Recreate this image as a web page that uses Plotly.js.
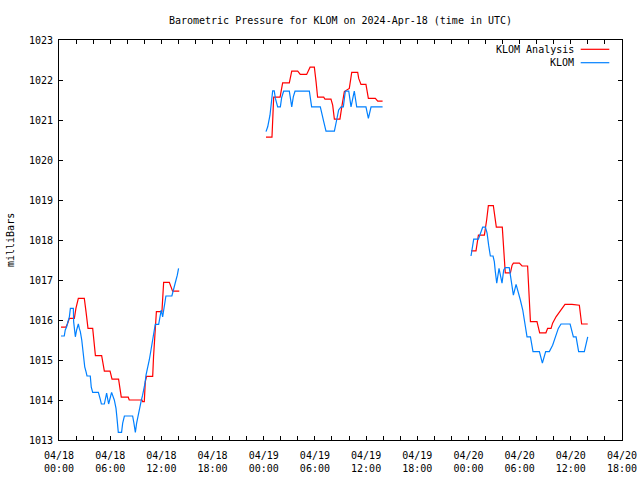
<!DOCTYPE html>
<html>
<head>
<meta charset="utf-8">
<script src="https://cdn.plot.ly/plotly-3.0.1.min.js"></script>
<style>html,body{margin:0;padding:0;background:#fff;}#chart{width:640px;height:480px;}</style>
</head>
<body>
<div id="chart"></div>
<script>
// Hours after 2024-04-18 00:00 UTC; null separates data gaps
const analysisHours = [0.23,0.82,1.02,1.21,1.80,1.99,2.27,2.97,3.16,3.28,3.40,3.95,4.06,4.26,5.00,5.12,5.31,5.98,6.21,6.99,7.15,7.30,8.12,8.24,9.73,9.80,10.00,10.12,10.27,10.98,11.09,11.21,11.33,11.41,12.07,12.15,12.27,12.93,13.12,13.32,14.10,
  null,
  24.27,24.97,25.17,25.91,26.22,27.00,27.28,27.98,28.29,29.03,29.43,29.93,30.13,30.32,31.03,31.18,31.89,32.08,32.28,32.94,33.18,33.45,34.04,34.31,35.01,35.13,35.40,35.99,36.26,37.08,37.36,37.94,
  null,
  48.30,48.89,49.16,49.86,50.14,50.33,50.92,51.04,51.27,51.97,52.09,52.21,52.32,52.91,53.11,53.26,53.97,54.28,54.94,55.14,55.26,56.04,56.19,56.35,57.09,57.29,57.68,57.87,58.26,58.85,59.32,60.14,61.00,61.27,61.98];
const analysisMb = [1015.82,1015.82,1015.92,1016.04,1016.04,1016.29,1016.54,1016.54,1016.21,1015.96,1015.79,1015.79,1015.46,1015.11,1015.11,1014.92,1014.72,1014.72,1014.52,1014.52,1014.33,1014.07,1014.07,1014.00,1014.00,1013.96,1013.96,1014.46,1014.59,1014.59,1015.08,1015.58,1015.96,1016.21,1016.21,1016.67,1016.94,1016.94,1016.83,1016.72,1016.72,
  null,
  1020.57,1020.57,1021.57,1021.57,1021.93,1021.93,1022.22,1022.22,1022.14,1022.14,1022.32,1022.32,1021.96,1021.57,1021.57,1021.52,1021.52,1021.37,1021.02,1021.02,1021.37,1021.71,1021.79,1022.19,1022.19,1022.04,1021.89,1021.89,1021.54,1021.54,1021.47,1021.47,
  null,
  1017.73,1017.73,1018.12,1018.12,1018.50,1018.86,1018.86,1018.62,1018.32,1018.32,1017.79,1017.50,1017.18,1017.18,1017.37,1017.42,1017.42,1017.35,1017.35,1016.62,1015.96,1015.96,1015.79,1015.68,1015.68,1015.79,1015.79,1015.92,1016.08,1016.25,1016.39,1016.39,1016.37,1015.90,1015.90];

const stationHours = [0.23,0.62,0.74,0.90,1.05,1.21,1.33,1.68,1.72,1.91,2.07,2.27,2.38,2.50,2.66,2.77,2.89,3.01,3.16,3.28,3.67,3.79,3.95,4.61,4.84,4.96,5.31,5.59,5.82,6.17,6.48,6.68,6.80,6.95,7.34,7.46,7.66,8.63,8.79,8.95,9.10,9.26,9.41,9.61,9.80,9.96,10.08,10.20,10.39,10.59,10.78,10.94,11.09,11.29,11.68,11.84,11.99,12.15,12.30,12.54,13.24,13.40,13.55,13.71,13.87,14.02,
  null,
  24.27,24.46,24.74,24.85,25.05,25.24,25.36,25.64,25.95,26.10,26.34,27.00,27.16,27.28,27.47,27.67,29.35,29.62,30.64,30.83,31.03,31.30,32.28,32.55,32.79,33.06,33.33,33.57,33.96,34.23,34.62,34.90,35.99,36.26,36.58,37.94,
  null,
  48.30,48.50,48.61,49.16,49.39,49.67,49.98,50.18,50.37,50.57,50.88,51.04,51.15,51.31,51.58,51.78,51.93,52.13,52.32,52.79,52.99,53.26,53.58,53.85,54.08,54.36,54.63,54.87,55.26,55.57,56.31,56.66,57.05,57.48,57.87,58.19,58.54,58.85,59.91,60.30,60.61,60.92,61.59,61.98];
const stationMb = [1015.60,1015.60,1015.75,1015.83,1015.96,1016.08,1016.29,1016.29,1015.96,1015.58,1015.75,1015.90,1015.79,1015.71,1015.50,1015.25,1015.00,1014.83,1014.71,1014.60,1014.60,1014.32,1014.19,1014.19,1014.02,1013.90,1013.90,1014.17,1013.90,1014.19,1014.00,1013.79,1013.54,1013.19,1013.19,1013.42,1013.60,1013.60,1013.42,1013.19,1013.42,1013.62,1013.79,1013.96,1014.12,1014.29,1014.42,1014.62,1014.79,1015.00,1015.25,1015.46,1015.67,1015.89,1015.89,1016.08,1016.25,1016.08,1016.25,1016.60,1016.60,1016.72,1016.87,1017.00,1017.12,1017.29,
  null,
  1020.71,1020.83,1021.12,1021.37,1021.73,1021.73,1021.54,1021.33,1021.33,1021.56,1021.72,1021.72,1021.54,1021.33,1021.58,1021.72,1021.72,1021.33,1021.33,1021.17,1020.96,1020.72,1020.72,1021.00,1021.25,1021.33,1021.33,1021.72,1021.72,1021.33,1021.72,1021.33,1021.33,1021.04,1021.33,1021.33,
  null,
  1017.60,1017.87,1018.02,1018.02,1018.17,1018.32,1018.32,1018.17,1017.87,1017.60,1017.60,1017.46,1017.21,1016.92,1017.29,1017.08,1016.92,1017.25,1017.31,1017.31,1017.00,1016.62,1016.89,1016.71,1016.50,1016.25,1015.87,1015.58,1015.58,1015.21,1015.21,1014.92,1015.21,1015.21,1015.37,1015.58,1015.79,1015.90,1015.90,1015.58,1015.58,1015.21,1015.21,1015.58];

const seriesNames = ["KLOM Analysis", "KLOM"];
const seriesColors = ["#ff0000", "#0080ff"];
const chartTitle = "Barometric Pressure for KLOM on 2024-Apr-18 (time in UTC)";
const yTitle = "milliBars";

const baseMs = Date.UTC(2024, 3, 18, 0, 0, 0);
function pad(n){ return (n < 10 ? "0" : "") + n; }
function toDate(h){
  if (h === null) return null;
  const d = new Date(baseMs + Math.round(h * 60) * 60000);
  return d.getUTCFullYear() + "-" + pad(d.getUTCMonth()+1) + "-" + pad(d.getUTCDate()) + " " +
         pad(d.getUTCHours()) + ":" + pad(d.getUTCMinutes()) + ":00";
}

const FONT = "DejaVu Sans Mono, Liberation Mono, monospace";

const traces = [
  {x: analysisHours.map(toDate), y: analysisMb, name: seriesNames[0], type: "scatter", mode: "lines",
   line: {color: seriesColors[0], width: 1.2}, connectgaps: false, showlegend: false, hoverinfo: "skip"},
  {x: stationHours.map(toDate), y: stationMb, name: seriesNames[1], type: "scatter", mode: "lines",
   line: {color: seriesColors[1], width: 1.2}, connectgaps: false, showlegend: false, hoverinfo: "skip"}
];

// legend key positions (paper)
const legX0 = (580.7 - 59) / 563, legX1 = (609.3 - 59) / 563, legTextX = (575.5 - 59) / 563;
const legY = [(440 - 49.8) / 400, (440 - 62.9) / 400];

const layout = {
  width: 640, height: 480,
  margin: {l: 59, r: 18, t: 40, b: 40, pad: 0},
  paper_bgcolor: "#ffffff", plot_bgcolor: "#ffffff",
  font: {family: FONT, size: 10, color: "#000000"},
  title: {text: chartTitle, font: {family: FONT, size: 10, color: "#000"},
          x: 0.5, xref: "paper", y: 1 - 20/480, yref: "container", yanchor: "middle", xanchor: "center"},
  showlegend: false,
  xaxis: {
    type: "date",
    range: ["2024-04-18 00:00:00", "2024-04-20 18:00:00"],
    tick0: "2024-04-18 00:00:00", dtick: 6*3600*1000,
    tickformat: "%m/%d<br>%H:%M",
    ticks: "inside", ticklen: 4, tickwidth: 1, tickcolor: "#000",
    minor: {dtick: 2*3600*1000, ticks: "inside", ticklen: 4, tickwidth: 1, tickcolor: "#000", showgrid: false},
    showline: true, linecolor: "#000", linewidth: 1, mirror: "ticks",
    showgrid: false, zeroline: false, fixedrange: true,
    tickfont: {family: FONT, size: 10, color: "#000"},
    ticklabelstandoff: 6
  },
  yaxis: {
    range: [1013, 1023], dtick: 1, tick0: 1013,
    ticks: "inside", ticklen: 4, tickwidth: 1, tickcolor: "#000",
    showline: true, linecolor: "#000", linewidth: 1, mirror: "ticks",
    showgrid: false, zeroline: false, fixedrange: true,
    tickfont: {family: FONT, size: 10, color: "#000"},
    ticklabelstandoff: 3
  },
  annotations: [
    {text: yTitle, xref: "paper", yref: "paper", x: 0, y: 0.5, xanchor: "center", yanchor: "middle",
     xshift: -49, textangle: -90, showarrow: false, font: {family: FONT, size: 10, color: "#000"}},
    {text: seriesNames[0], xref: "paper", yref: "paper", x: legTextX, y: legY[0], xanchor: "right", yanchor: "middle",
     showarrow: false, font: {family: FONT, size: 10, color: "#000"}},
    {text: seriesNames[1], xref: "paper", yref: "paper", x: legTextX, y: legY[1], xanchor: "right", yanchor: "middle",
     showarrow: false, font: {family: FONT, size: 10, color: "#000"}}
  ],
  shapes: [
    {type: "line", xref: "paper", yref: "paper", x0: legX0, x1: legX1, y0: (440 - 49.3) / 400, y1: (440 - 49.3) / 400,
     line: {color: seriesColors[0], width: 1.2}},
    {type: "line", xref: "paper", yref: "paper", x0: legX0, x1: legX1, y0: (440 - 62.7) / 400, y1: (440 - 62.7) / 400,
     line: {color: seriesColors[1], width: 1.2}}
  ]
};

Plotly.newPlot("chart", traces, layout, {staticPlot: true, displayModeBar: false});
</script>
</body>
</html>
